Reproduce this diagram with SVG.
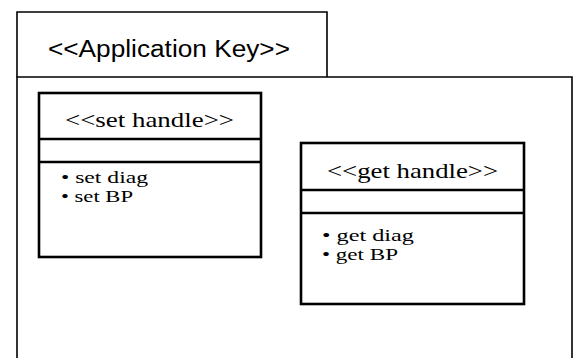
<svg xmlns="http://www.w3.org/2000/svg" width="574" height="358" viewBox="0 0 574 358">
<style>
.bg{fill:#ffffff}
.pkg{fill:none;stroke:#000;stroke-width:1.6}
.cls{fill:#fff;stroke:#000;stroke-width:2.6}
.sep{stroke:#000;stroke-width:2.4}
.sans{font-family:"Liberation Sans",Arial,sans-serif;fill:#000}
.serif{font-family:"Liberation Serif","Times New Roman",serif;fill:#000}
.item{font-size:17px}
</style>
<rect class="bg" x="0" y="0" width="574" height="358"/>
<g id="application-key">
<path class="pkg" d="M17,77 V12 H327 V77"/>
<path class="pkg" d="M17,358 V77 H572 V358"/>
<text class="sans" x="48" y="57" font-size="23" textLength="242" lengthAdjust="spacingAndGlyphs">&lt;&lt;Application Key&gt;&gt;</text>
</g>
<g id="set-handle">
<rect class="cls" x="39" y="93" width="222" height="164"/>
<line class="sep" x1="39" y1="139" x2="261" y2="139"/>
<line class="sep" x1="39" y1="162" x2="261" y2="162"/>
<text class="serif" x="65" y="127" font-size="21" textLength="169" lengthAdjust="spacingAndGlyphs">&lt;&lt;set handle&gt;&gt;</text>
<text class="serif item" x="61" y="183" textLength="87" lengthAdjust="spacingAndGlyphs">• set diag</text>
<text class="serif item" x="61" y="202" textLength="72" lengthAdjust="spacingAndGlyphs">• set BP</text>
</g>
<g id="get-handle">
<rect class="cls" x="301" y="143" width="223" height="161"/>
<line class="sep" x1="301" y1="190" x2="524" y2="190"/>
<line class="sep" x1="301" y1="213" x2="524" y2="213"/>
<text class="serif" x="327" y="178" font-size="21" textLength="171" lengthAdjust="spacingAndGlyphs">&lt;&lt;get handle&gt;&gt;</text>
<text class="serif item" x="322" y="241" textLength="92" lengthAdjust="spacingAndGlyphs">• get diag</text>
<text class="serif item" x="322" y="260" textLength="76" lengthAdjust="spacingAndGlyphs">• get BP</text>
</g>
<g id="connectors"></g>
</svg>
